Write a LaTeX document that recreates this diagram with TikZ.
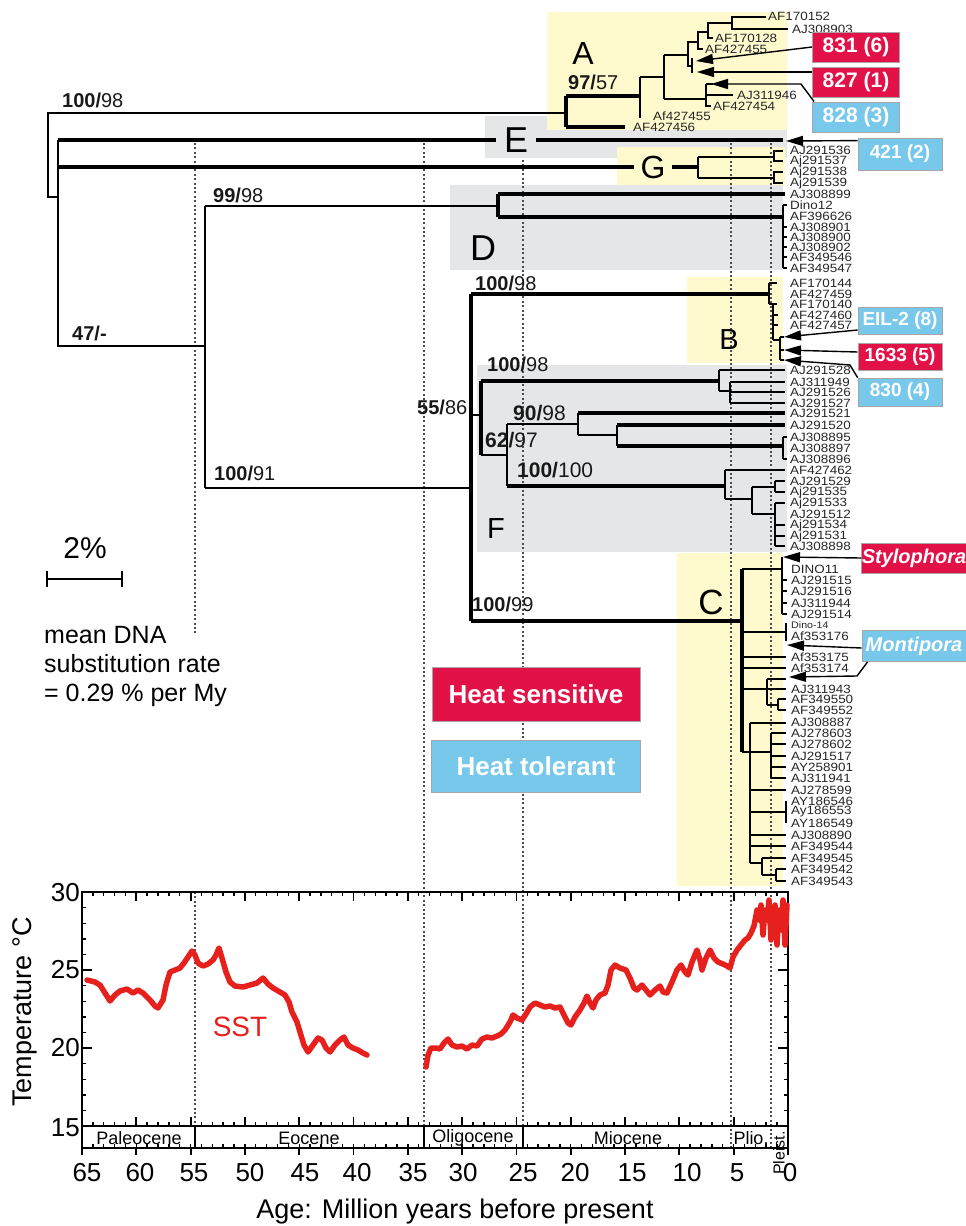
\documentclass[tikz,border=0pt]{standalone}
\usepackage{fontspec}
\setmainfont{Liberation Sans}
\newfontfamily\tipfont[FakeStretch=1.12]{Liberation Sans}
\usetikzlibrary{arrows.meta}

\definecolor{hotred}{RGB}{226,18,72}
\definecolor{coolblue}{RGB}{120,200,236}
\definecolor{paleyel}{RGB}{255,249,206}
\definecolor{palegray}{RGB}{229,230,232}
\definecolor{sstred}{RGB}{230,32,28}

\begin{document}
\begin{tikzpicture}[x=1pt,y=-1pt,
  twig/.style={line width=1.6pt},
  limb/.style={line width=2.4pt},
  trunk/.style={line width=4pt},
  tip/.style={anchor=west,inner sep=0pt,text=black!85,font=\tipfont\fontsize{12}{12}\selectfont},
  boot/.style={anchor=west,inner sep=0pt,text=black!90,font=\fontsize{20}{20}\selectfont},
  clade/.style={inner sep=0pt,font=\fontsize{32}{32}\selectfont},
  epoch/.style={line width=2pt,dash pattern=on 2pt off 2.4pt,black!70},
  hotbox/.style={fill=hotred,draw=black!35,line width=0.8pt,text=white,inner sep=0pt,
    minimum width=84,minimum height=28,font=\bfseries\fontsize{19}{19}\selectfont},
  coolbox/.style={hotbox,fill=coolblue},
  pointer/.style={line width=1.4pt,-{Triangle[length=17pt,width=10pt]}},
  sstline/.style={sstred,line width=5.5pt,line join=round,line cap=round}]
\useasboundingbox (0,0) rectangle (966,1226);

% clade backgrounds
\fill[palegray] (485,116) rectangle (787,158);
\fill[paleyel] (547,12) rectangle (787,130);
\fill[paleyel] (617,147) rectangle (785,186);
\fill[palegray] (450,185) rectangle (783,270);
\fill[paleyel] (687,277) rectangle (783,363);
\fill[palegray] (477,365) rectangle (787,552);
\fill[paleyel] (677,553) rectangle (783,886);

% epoch boundaries
\draw[epoch] (195,143) -- (195,633);
\draw[epoch] (195,892) -- (195,1126);
\draw[epoch] (424,143) -- (424,1126);
\draw[epoch] (523,160) -- (523,1126);
\draw[epoch] (731,143) -- (731,1148);
\draw[epoch] (771,143) -- (771,1148);

% backbone
\draw[twig] (566,113) -- (48,113) -- (48,197) -- (58,197);
\draw[twig] (58,140) -- (58,346) -- (205,346);
\draw[twig] (205,206) -- (205,488);
\draw[twig] (205,206) -- (498,206);
\draw[twig] (205,488) -- (471,488);

% clade A
\draw[trunk] (566,96) -- (566,127);
\draw[trunk] (566,96) -- (640,96);
\draw[trunk] (566,127) -- (625,127);
\draw[limb] (640,77) -- (640,118);
\draw[limb] (640,77) -- (664,77);
\draw[limb] (664,55) -- (664,99);
\draw[limb] (664,55) -- (688,55);
\draw[limb] (664,99) -- (706,99);
\draw[limb] (706,84) -- (706,107);
\draw[limb] (706,84) -- (713,84) (706,95) -- (733,95) (706,106) -- (711,106);
\draw[limb] (698,42) -- (688,42) -- (688,66) -- (692,66);
\draw[limb] (692,58) -- (692,73);
\draw[limb] (708,32) -- (698,32) -- (698,49) -- (703,49);
\draw[limb] (713,38) -- (708,38) -- (708,23) -- (732,23);
\draw[limb] (766,17) -- (732,17) -- (732,29) -- (788,29);
\node[tip] (a1) at (768,16) {AF170152};
\node[tip] (a2) at (792,29) {AJ308903};
\node[tip] (a3) at (715,38) {AF170128};
\node[tip] (a4) at (705,49) {AF427455};
\node[tip] (a5) at (737,95) {AJ311946};
\node[tip] (a6) at (713,106) {AF427454};
\node[tip] (a7) at (653,116) {Af427455};
\node[tip] (a8) at (633,127) {AF427456};
\node[clade] (cA) at (583,53) {A};

% clade E
\draw[trunk] (58,140) -- (783,140);
\node[clade,fill=palegray,inner xsep=8pt,inner ysep=4pt,font=\fontsize{36}{36}\selectfont] (cE) at (516,140) {E};

% clade G
\draw[trunk] (58,167) -- (698,167);
\node[clade,fill=paleyel,inner xsep=7pt,inner ysep=3pt] (cG) at (653,167) {G};
\draw[twig] (698,157) -- (698,178);
\draw[twig] (698,157) -- (774,157);
\draw[twig] (698,178) -- (774,178);
\draw[twig] (783,151) -- (774,151) -- (774,161) -- (783,161);
\draw[twig] (783,172) -- (774,172) -- (774,183) -- (783,183);
\node[tip] (g1) at (790,150) {AJ291536};
\node[tip] (g2) at (790,161) {Aj291537};
\node[tip] (g3) at (790,172) {Aj291538};
\node[tip] (g4) at (790,183) {Aj291539};

% clade D
\draw[trunk] (498,194) -- (498,217);
\draw[trunk] (498,194) -- (785,194);
\draw[trunk] (498,217) -- (783,217);
\draw[limb] (783,205) -- (783,268);
\draw[twig] (783,205) -- ++(4,0) (783,227) -- ++(4,0) (783,237) -- ++(4,0)
  (783,247) -- ++(4,0) (783,257) -- ++(4,0) (783,268) -- ++(4,0);
\node[tip] (d1) at (790,194) {AJ308899};
\node[tip] (d2) at (790,205) {Dino12};
\node[tip] (d3) at (790,216) {AF396626};
\node[tip] (d4) at (790,227) {AJ308901};
\node[tip] (d5) at (790,237) {AJ308900};
\node[tip] (d6) at (790,247) {AJ308902};
\node[tip] (d7) at (790,257) {AF349546};
\node[tip] (d8) at (790,268) {AF349547};
\node[clade,font=\fontsize{36}{36}\selectfont] (cD) at (483,248) {D};

% clade B
\draw[trunk] (471,294) -- (769,294);
\draw[limb] (769,283) -- (769,304);
\draw[twig] (769,283) -- (777,283) (769,304) -- (777,304);
\draw[limb] (773,304) -- (773,340);
\draw[twig] (773,315) -- (778,315) (773,325) -- (778,325) (773,340) -- (780,340);
\draw[limb] (780,337) -- (780,360);
\draw[twig] (780,337) -- (784,337) (780,350) -- (784,350) (780,360) -- (784,360);
\node[tip] (b1) at (790,283) {AF170144};
\node[tip] (b2) at (790,294) {AF427459};
\node[tip] (b3) at (790,304) {AF170140};
\node[tip] (b4) at (790,315) {AF427460};
\node[tip] (b5) at (790,325) {AF427457};
\node[clade,font=\fontsize{29}{29}\selectfont] (cB) at (729,340) {B};

% clade F
\draw[trunk] (471,294) -- (471,621);
\draw[twig] (471,415) -- (481,415);
\draw[trunk] (481,381) -- (481,455);
\draw[trunk] (481,381) -- (719,381);
\draw[twig] (719,370) -- (719,391);
\draw[twig] (719,370) -- (785,370);
\draw[twig] (719,391) -- (730,391);
\draw[twig] (730,382) -- (730,403);
\draw[twig] (730,382) -- (785,382) (730,392) -- (785,392) (730,403) -- (785,403);
\draw[twig] (481,455) -- (507,455);
\draw[twig] (507,424) -- (507,486);
\draw[twig] (507,424) -- (578,424);
\draw[twig] (578,413) -- (578,435);
\draw[trunk] (578,413) -- (785,413);
\draw[twig] (578,435) -- (617,435);
\draw[twig] (617,425) -- (617,446);
\draw[trunk] (617,425) -- (785,425);
\draw[trunk] (617,446) -- (783,446);
\draw[limb] (783,437) -- (783,459);
\draw[twig] (783,437) -- ++(4,0) (783,459) -- ++(4,0);
\draw[trunk] (507,486) -- (725,486);
\draw[twig] (725,470) -- (725,499);
\draw[twig] (725,470) -- (785,470);
\draw[twig] (725,499) -- (752,499);
\draw[twig] (752,487) -- (752,514);
\draw[twig] (752,487) -- (775,487);
\draw[limb] (775,481) -- (775,492);
\draw[twig] (775,481) -- (785,481) (775,492) -- (785,492);
\draw[twig] (752,514) -- (775,514);
\draw[limb] (775,503) -- (775,546);
\draw[twig] (775,503) -- (785,503) (775,525) -- (785,525) (775,536) -- (785,536) (775,546) -- (785,546);
\node[tip] (f1) at (790,370) {AJ291528};
\node[tip] (f2) at (790,382) {AJ311949};
\node[tip] (f3) at (790,392) {AJ291526};
\node[tip] (f4) at (790,403) {AJ291527};
\node[tip] (f5) at (790,413) {AJ291521};
\node[tip] (f6) at (790,425) {AJ291520};
\node[tip] (f7) at (790,437) {AJ308895};
\node[tip] (f8) at (790,448) {AJ308897};
\node[tip] (f9) at (790,459) {AJ308896};
\node[tip] (f10) at (790,470) {AF427462};
\node[tip] (f11) at (790,481) {AJ291529};
\node[tip] (f12) at (790,492) {Aj291535};
\node[tip] (f13) at (790,503) {Aj291533};
\node[tip] (f14) at (790,514) {AJ291512};
\node[tip] (f15) at (790,525) {Aj291534};
\node[tip] (f16) at (790,536) {Aj291531};
\node[tip] (f17) at (790,546) {AJ308898};
\node[clade,font=\fontsize{29}{29}\selectfont] (cF) at (496,529) {F};

% clade C
\draw[trunk] (471,621) -- (742,621);
\draw[trunk] (742,569) -- (742,752);
\draw[limb] (742,569) -- (782,569);
\draw[twig] (782,557) -- (782,614);
\draw[twig] (782,580) -- ++(5,0) (782,591) -- ++(5,0) (782,603) -- ++(5,0) (782,614) -- ++(5,0);
\draw[limb] (742,632) -- (786,632);
\draw[limb] (786,623) -- (786,641);
\draw[limb] (742,657) -- (786,657);
\draw[limb] (742,668) -- (786,668);
\draw[limb] (742,689) -- (786,689);
\draw[twig] (767,679) -- (767,705);
\draw[twig] (767,679) -- (786,679);
\draw[twig] (767,705) -- (778,705);
\draw[twig] (778,699) -- (778,710);
\draw[twig] (778,699) -- (786,699) (778,710) -- (786,710);
\draw[limb] (742,752) -- (771,752);
\draw[twig] (771,733) -- (771,778);
\draw[twig] (771,733) -- (786,733) (771,744) -- (786,744) (771,756) -- (786,756)
  (771,767) -- (786,767) (771,778) -- (786,778);
\draw[limb] (750,723) -- (750,863);
\draw[twig] (750,723) -- (786,723);
\draw[twig] (750,790) -- (786,790);
\draw[twig] (750,812) -- (786,812);
\draw[limb] (786,801) -- (786,823);
\draw[twig] (750,835) -- (786,835);
\draw[twig] (750,846) -- (786,846);
\draw[twig] (750,863) -- (762,863);
\draw[twig] (762,858) -- (762,875);
\draw[twig] (762,858) -- (786,858);
\draw[twig] (762,875) -- (776,875);
\draw[limb] (776,869) -- (776,881);
\draw[twig] (776,869) -- (786,869) (776,881) -- (786,881);
\node[tip] (c1) at (791,569) {DINO11};
\node[tip] (c2) at (791,580) {AJ291515};
\node[tip] (c3) at (791,591) {AJ291516};
\node[tip] (c4) at (791,603) {AJ311944};
\node[tip] (c5) at (791,614) {AJ291514};
\node[tip,font=\tipfont\fontsize{9.5}{9.5}\selectfont] (c6) at (791,625) {Dino-14};
\node[tip] (c7) at (791,636) {Af353176};
\node[tip] (c8) at (791,657) {Af353175};
\node[tip] (c9) at (791,668) {Af353174};
\node[tip] (c10) at (791,689) {AJ311943};
\node[tip] (c11) at (791,699) {AF349550};
\node[tip] (c12) at (791,710) {AF349552};
\node[tip] (c13) at (791,722) {AJ308887};
\node[tip] (c14) at (791,733) {AJ278603};
\node[tip] (c15) at (791,744) {AJ278602};
\node[tip] (c16) at (791,756) {AJ291517};
\node[tip] (c17) at (791,767) {AY258901};
\node[tip] (c18) at (791,778) {AJ311941};
\node[tip] (c19) at (791,790) {AJ278599};
\node[tip] (c20) at (791,801) {AY186546};
\node[tip] (c21) at (791,812) {Ay186553};
\node[tip] (c22) at (791,823) {AY186549};
\node[tip] (c23) at (791,835) {AJ308890};
\node[tip] (c24) at (791,846) {AF349544};
\node[tip] (c25) at (791,858) {AF349545};
\node[tip] (c26) at (791,869) {AF349542};
\node[tip] (c27) at (791,881) {AF349543};
\node[clade,font=\fontsize{35}{35}\selectfont] (cC) at (711,602) {C};

% support values
\node[boot] (bs1) at (62,100) {\textbf{100/}98};
\node[boot] (bs2) at (568,82) {\textbf{97/}57};
\node[boot] (bs3) at (213,195) {\textbf{99/}98};
\node[boot] (bs4) at (72,333) {\textbf{47/-}};
\node[boot] (bs5) at (475,283) {\textbf{100/}98};
\node[boot] (bs6) at (487,364) {\textbf{100/}98};
\node[boot] (bs7) at (417,407) {\textbf{55/}86};
\node[boot,font=\fontsize{21}{21}\selectfont] (bs8) at (513,413) {\textbf{90/}98};
\node[boot,font=\fontsize{21}{21}\selectfont] (bs9) at (485,440) {\textbf{62/}97};
\node[boot,font=\fontsize{21}{21}\selectfont] (bs10) at (517,470) {\textbf{100/}100};
\node[boot] (bs11) at (214,473) {\textbf{100/}91};
\node[boot] (bs12) at (472,604) {\textbf{100/}99};

% isolates and arrows
\coordinate (p831) at (696,61);
\coordinate (p827) at (697,72);
\coordinate (p828) at (711,84);
\coordinate (p421) at (786,141);
\coordinate (peil) at (784,337);
\coordinate (p1633) at (784,350);
\coordinate (p830) at (784,360);
\coordinate (psty) at (783,557);
\coordinate (pmon) at (787,645);
\coordinate (pmon2) at (789,677);
\node[hotbox,minimum width=87,minimum height=30,font=\bfseries\fontsize{21}{21}\selectfont] (b831) at (856,47) {831 (6)};
\node[hotbox,minimum width=87,minimum height=30,font=\bfseries\fontsize{21}{21}\selectfont] (b827) at (856,82) {827 (1)};
\node[coolbox,minimum width=87,minimum height=30,font=\bfseries\fontsize{21}{21}\selectfont] (b828) at (856,117) {828 (3)};
\node[coolbox,minimum height=32] (b421) at (900,154) {421 (2)};
\node[coolbox,minimum height=27] (beil) at (900,321) {EIL-2 (8)};
\node[hotbox,minimum height=27] (b1633) at (900,357) {1633 (5)};
\node[coolbox,minimum height=28] (b830) at (900,392) {830 (4)};
\node[hotbox,minimum width=104,minimum height=30,font=\bfseries\itshape\fontsize{20}{20}\selectfont] (bsty) at (914,558) {Stylophora};
\node[coolbox,minimum width=104,minimum height=31,font=\bfseries\itshape\fontsize{20}{20}\selectfont] (bmon) at (914,646) {Montipora};
\draw[pointer] (b831.west) -- (p831);
\draw[pointer] ([yshift=10pt]b827.west) -- (p827);
\draw[pointer] ([xshift=2pt]b828.north west) -- (801,84) -- (p828);
\draw[pointer] ([yshift=-3pt]b421.north west) -- (p421);
\draw[pointer] ([yshift=-9pt]beil.west) -- (peil);
\draw[pointer] ([yshift=5pt]b1633.west) -- (p1633);
\draw[pointer] (b830.north west) -- (850,365) -- (p830);
\draw[pointer] (bsty.west) -- (psty);
\draw[pointer] ([yshift=-2pt]bmon.west) -- (pmon);
\draw[pointer] ([xshift=6pt]bmon.south west) -- (857,676) -- (pmon2);

% legend
\node[hotbox,minimum width=208,minimum height=54,font=\bfseries\fontsize{26}{26}\selectfont] (hs) at (536,694) {Heat sensitive};
\node[coolbox,minimum width=209,minimum height=52,font=\bfseries\fontsize{26}{26}\selectfont] (ht) at (536,766) {Heat tolerant};

% scale bar
\node[inner sep=0pt,font=\fontsize{30}{30}\selectfont] (pct) at (85,548) {2\%};
\draw[line width=2.5pt] (47,579) -- (122,579);
\draw[line width=2.5pt] (47,571) -- (47,587);
\draw[line width=2.5pt] (122,571) -- (122,587);
\node[anchor=north west,inner sep=0pt,align=left,font=\fontsize{25}{29}\selectfont] (rate) at (44,626)
  {mean DNA\\substitution rate\\= 0.29 \% per My};

% temperature plot
\draw[line width=2pt] (82,892) rectangle (788,1148);
\draw[line width=2pt] (82,1126) -- (788,1126);
\draw[line width=2pt] (195,1126) -- (195,1148);
\draw[line width=2pt] (424,1126) -- (424,1148);
\draw[line width=2pt] (523,1126) -- (523,1148);
\draw[line width=4pt,dash pattern=on 1.4pt off 9.46pt] (81.3,894) -- (789,894);
\draw[line width=9pt,dash pattern=on 1.8pt off 52.5pt] (81.1,896.5) -- (789,896.5);
\draw[line width=4pt,dash pattern=on 1.4pt off 9.46pt] (81.3,1124) -- (789,1124);
\draw[line width=9pt,dash pattern=on 1.8pt off 52.5pt] (81.1,1121.5) -- (789,1121.5);
\draw[line width=4pt,dash pattern=on 1.4pt off 9.46pt] (81.3,1146) -- (789,1146);
\draw[line width=7pt,dash pattern=on 1.8pt off 52.5pt] (81.1,1151.5) -- (789,1151.5);
\draw[line width=4pt,dash pattern=on 1.4pt off 14.2pt] (84,891.3) -- (84,1127);
\draw[line width=10pt,dash pattern=on 1.8pt off 76.2pt] (87,891.1) -- (87,1127);
\draw[line width=4pt,dash pattern=on 1.4pt off 14.2pt] (786,891.3) -- (786,1127);
\draw[line width=10pt,dash pattern=on 1.8pt off 76.2pt] (783,891.1) -- (783,1127);
\node[anchor=east,inner sep=0pt,font=\fontsize{26}{26}\selectfont] (y30) at (80,893) {30};
\node[anchor=east,inner sep=0pt,font=\fontsize{26}{26}\selectfont] (y25) at (80,970) {25};
\node[anchor=east,inner sep=0pt,font=\fontsize{26}{26}\selectfont] (y20) at (80,1048) {20};
\node[anchor=east,inner sep=0pt,font=\fontsize{26}{26}\selectfont] (y15) at (80,1128) {15};
\node[rotate=90,inner sep=0pt,font=\fontsize{27}{27}\selectfont] (ylab) at (25,1012) {Temperature °C};
\node[inner sep=0pt,font=\fontsize{26}{26}\selectfont] (x65) at (87,1173) {65};
\node[inner sep=0pt,font=\fontsize{26}{26}\selectfont] (x60) at (140,1173) {60};
\node[inner sep=0pt,font=\fontsize{26}{26}\selectfont] (x55) at (194,1173) {55};
\node[inner sep=0pt,font=\fontsize{26}{26}\selectfont] (x50) at (250,1173) {50};
\node[inner sep=0pt,font=\fontsize{26}{26}\selectfont] (x45) at (305,1173) {45};
\node[inner sep=0pt,font=\fontsize{26}{26}\selectfont] (x40) at (357,1173) {40};
\node[inner sep=0pt,font=\fontsize{26}{26}\selectfont] (x35) at (413,1173) {35};
\node[inner sep=0pt,font=\fontsize{26}{26}\selectfont] (x30) at (463,1173) {30};
\node[inner sep=0pt,font=\fontsize{26}{26}\selectfont] (x25) at (523,1173) {25};
\node[inner sep=0pt,font=\fontsize{26}{26}\selectfont] (x20) at (575,1173) {20};
\node[inner sep=0pt,font=\fontsize{26}{26}\selectfont] (x15) at (632,1173) {15};
\node[inner sep=0pt,font=\fontsize{26}{26}\selectfont] (x10) at (687,1173) {10};
\node[inner sep=0pt,font=\fontsize{26}{26}\selectfont] (x5) at (737,1173) {5};
\node[inner sep=0pt,font=\fontsize{26}{26}\selectfont] (x0) at (790,1173) {0};
\node[inner sep=0pt,font=\fontsize{27}{27}\selectfont] (xlab) at (455,1212) {Age: Million years before present};
\node[inner sep=0pt,font=\fontsize{18}{18}\selectfont] (paleo) at (139,1138) {Paleocene};
\node[inner sep=0pt,font=\fontsize{18}{18}\selectfont] (eo) at (309,1138) {Eocene};
\node[inner sep=0pt,font=\fontsize{18}{18}\selectfont] (oligo) at (473,1138) {Oligocene};
\node[inner sep=0pt,font=\fontsize{18}{18}\selectfont] (mio) at (628,1138) {Miocene};
\node[inner sep=0pt,font=\fontsize{18}{18}\selectfont] (plio) at (751,1138) {Plio.};
\node[rotate=90,inner sep=0pt,font=\fontsize{16}{16}\selectfont] (pleist) at (779,1153) {Pleist.};

% sea surface temperature
\draw[sstline] plot coordinates {(87,980) (95,982) (100,985) (105,993) (110,1001) (115,995)
  (120,991) (127,989) (133,993) (138,990) (143,993) (150,1000) (155,1006) (158,1008)
  (163,1000) (166,985) (170,972) (175,970) (180,968) (184,963) (188,957) (192,951)
  (195,955) (198,963) (203,966) (208,964) (213,960) (216,955) (219,948) (222,958)
  (226,972) (230,982) (235,986) (243,987) (250,985) (257,983) (263,978) (268,984)
  (273,988) (280,992) (285,995) (289,1002) (292,1012) (297,1022) (300,1032) (304,1045)
  (308,1052) (313,1045) (318,1038) (322,1040) (326,1048) (330,1052) (335,1045)
  (340,1040) (344,1037) (348,1045) (353,1048) (358,1050) (363,1053) (367,1055)};
\draw[sstline] plot coordinates {(426,1067) (428,1055) (431,1048) (436,1048) (440,1049)
  (444,1043) (448,1039) (452,1045) (457,1047) (462,1046) (467,1049) (472,1045)
  (477,1046) (482,1039) (487,1037) (492,1038) (497,1036) (501,1034) (505,1030)
  (510,1022) (513,1015) (517,1018) (522,1020) (526,1014) (530,1007) (535,1003)
  (540,1005) (545,1007) (550,1006) (555,1008) (560,1007) (564,1015) (568,1023)
  (571,1025) (575,1017) (580,1010) (584,1003) (587,996) (590,1003) (593,1008)
  (596,1000) (600,995) (605,993) (608,985) (611,970) (615,965) (620,968) (626,970)
  (630,978) (634,988) (637,990) (642,985) (646,990) (650,995) (655,990) (660,986)
  (663,992) (667,993) (672,982) (677,970) (681,965) (685,972) (688,975) (692,962)
  (697,950) (700,960) (702,970) (706,958) (710,950) (714,958) (718,962) (723,964)
  (727,966) (730,968) (733,957) (737,950) (741,945) (745,940) (748,938) (751,933)
  (754,926) (757,910) (759,920) (761,905) (763,935) (765,910) (767,920) (769,900)
  (771,940) (773,915) (775,905) (777,945) (779,910) (781,930) (783,900) (785,945)
  (787,905)};
\node[inner sep=0pt,text=sstred,font=\fontsize{28}{28}\selectfont] (sst) at (240,1027) {SST};
\end{tikzpicture}
\end{document}
